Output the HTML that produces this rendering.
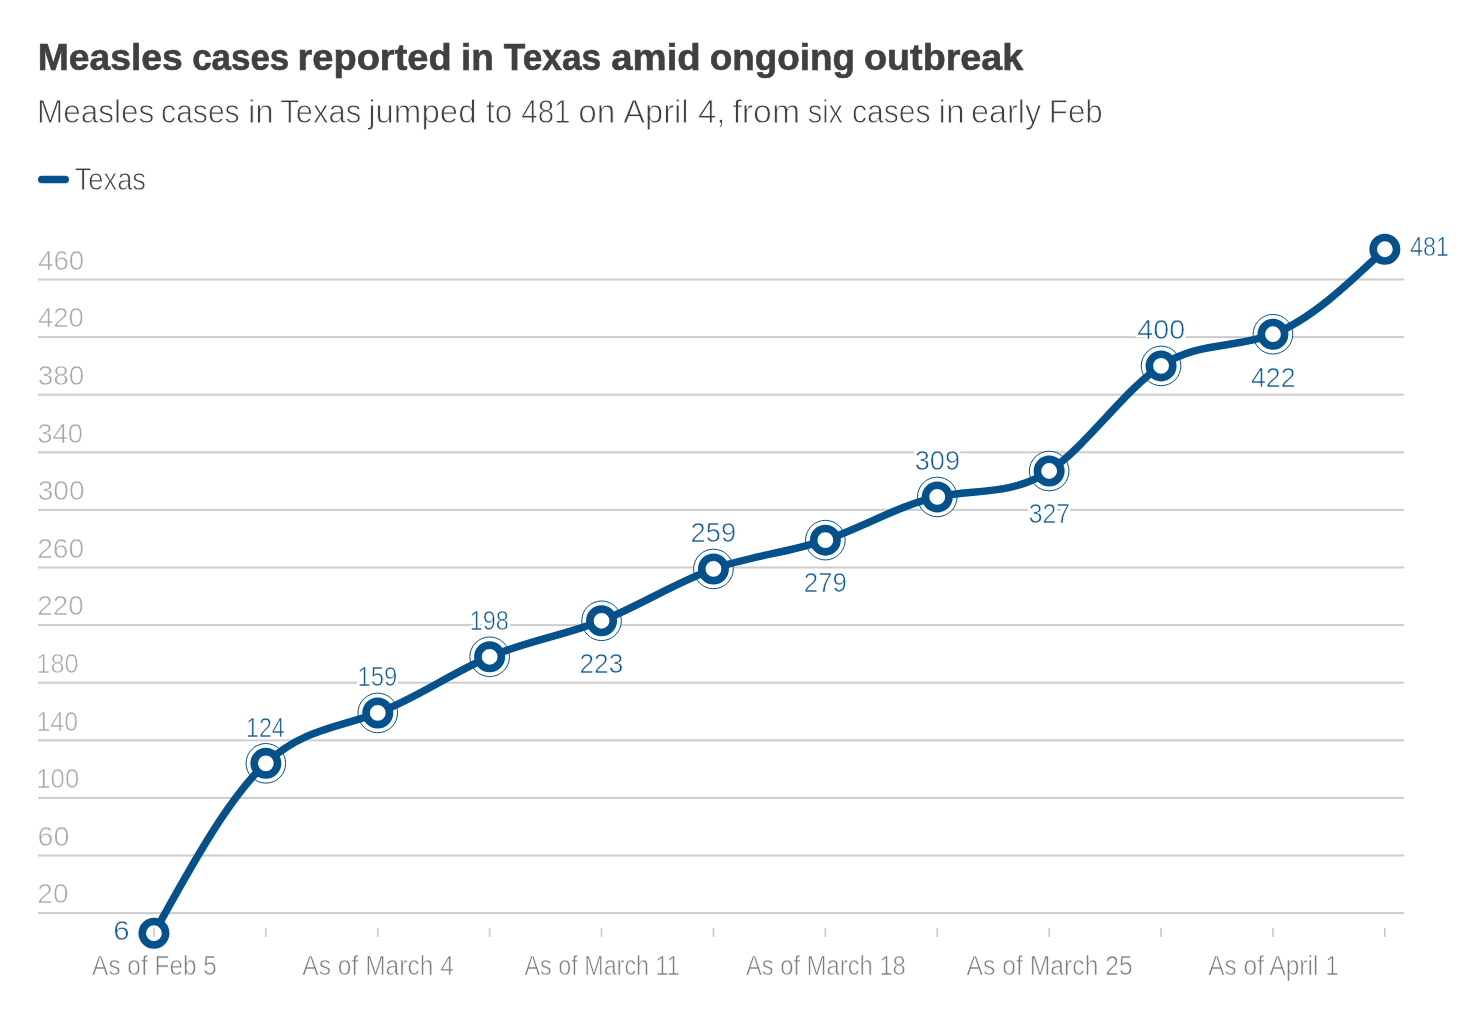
<!DOCTYPE html>
<html lang="en"><head><meta charset="utf-8"><title>Measles cases reported in Texas amid ongoing outbreak</title>
<style>
html,body{margin:0;padding:0;background:#fff;}
body{width:1484px;height:1022px;overflow:hidden;}
svg{display:block;}
</style></head><body>
<svg width="1484" height="1022" viewBox="0 0 1484 1022" font-family="'Liberation Sans', sans-serif">
<rect width="1484" height="1022" fill="#fff"/>
<defs><filter id="halo" x="-15%" y="-25%" width="130%" height="150%"><feMorphology in="SourceAlpha" operator="dilate" radius="1.5" result="d"/><feFlood flood-color="#fff"/><feComposite in2="d" operator="in" result="h"/><feMerge><feMergeNode in="h"/><feMergeNode in="SourceGraphic"/></feMerge></filter></defs>
<g fill="#cccccc">
<rect x="38" y="912.10" width="1366" height="2"/>
<rect x="38" y="854.50" width="1366" height="2"/>
<rect x="38" y="796.90" width="1366" height="2"/>
<rect x="38" y="739.30" width="1366" height="2"/>
<rect x="38" y="681.70" width="1366" height="2"/>
<rect x="38" y="624.10" width="1366" height="2"/>
<rect x="38" y="566.50" width="1366" height="2"/>
<rect x="38" y="508.90" width="1366" height="2"/>
<rect x="38" y="451.30" width="1366" height="2"/>
<rect x="38" y="393.70" width="1366" height="2"/>
<rect x="38" y="336.10" width="1366" height="2"/>
<rect x="38" y="278.50" width="1366" height="2"/>
<rect x="153.10" y="928" width="1.7" height="9"/>
<rect x="265.00" y="928" width="1.7" height="9"/>
<rect x="376.90" y="928" width="1.7" height="9"/>
<rect x="488.80" y="928" width="1.7" height="9"/>
<rect x="600.70" y="928" width="1.7" height="9"/>
<rect x="712.60" y="928" width="1.7" height="9"/>
<rect x="824.50" y="928" width="1.7" height="9"/>
<rect x="936.40" y="928" width="1.7" height="9"/>
<rect x="1048.30" y="928" width="1.7" height="9"/>
<rect x="1160.20" y="928" width="1.7" height="9"/>
<rect x="1272.10" y="928" width="1.7" height="9"/>
<rect x="1384.00" y="928" width="1.7" height="9"/>
</g>
<text x="37.38" y="903.40" font-size="27.64" fill="#a8a8a8" stroke="#fff" stroke-width="0.6" textLength="31.12" lengthAdjust="spacingAndGlyphs">20</text>
<text x="37.54" y="845.80" font-size="27.64" fill="#a8a8a8" stroke="#fff" stroke-width="0.6" textLength="31.99" lengthAdjust="spacingAndGlyphs">60</text>
<text x="36.34" y="788.20" font-size="27.64" fill="#a8a8a8" stroke="#fff" stroke-width="0.6" textLength="42.88" lengthAdjust="spacingAndGlyphs">100</text>
<text x="36.39" y="730.60" font-size="27.64" fill="#a8a8a8" stroke="#fff" stroke-width="0.6" textLength="41.70" lengthAdjust="spacingAndGlyphs">140</text>
<text x="36.37" y="673.00" font-size="27.64" fill="#a8a8a8" stroke="#fff" stroke-width="0.6" textLength="42.13" lengthAdjust="spacingAndGlyphs">180</text>
<text x="37.19" y="615.40" font-size="27.64" fill="#a8a8a8" stroke="#fff" stroke-width="0.6" textLength="46.41" lengthAdjust="spacingAndGlyphs">220</text>
<text x="37.17" y="557.80" font-size="27.64" fill="#a8a8a8" stroke="#fff" stroke-width="0.6" textLength="47.05" lengthAdjust="spacingAndGlyphs">260</text>
<text x="37.68" y="500.20" font-size="27.64" fill="#a8a8a8" stroke="#fff" stroke-width="0.6" textLength="47.04" lengthAdjust="spacingAndGlyphs">300</text>
<text x="37.20" y="442.60" font-size="27.64" fill="#a8a8a8" stroke="#fff" stroke-width="0.6" textLength="45.88" lengthAdjust="spacingAndGlyphs">340</text>
<text x="37.69" y="385.00" font-size="27.64" fill="#a8a8a8" stroke="#fff" stroke-width="0.6" textLength="46.72" lengthAdjust="spacingAndGlyphs">380</text>
<text x="37.95" y="327.40" font-size="27.64" fill="#a8a8a8" stroke="#fff" stroke-width="0.6" textLength="45.83" lengthAdjust="spacingAndGlyphs">420</text>
<text x="37.95" y="269.80" font-size="27.64" fill="#a8a8a8" stroke="#fff" stroke-width="0.6" textLength="46.35" lengthAdjust="spacingAndGlyphs">460</text>
<text x="92.12" y="974.53" font-size="27.13" fill="#7c7c7c" stroke="#fff" stroke-width="0.65" textLength="124.75" lengthAdjust="spacingAndGlyphs">As of Feb 5</text>
<text x="302.28" y="974.53" font-size="27.13" fill="#7c7c7c" stroke="#fff" stroke-width="0.65" textLength="151.71" lengthAdjust="spacingAndGlyphs">As of March 4</text>
<text x="524.57" y="974.53" font-size="27.13" fill="#7c7c7c" stroke="#fff" stroke-width="0.65" textLength="155.16" lengthAdjust="spacingAndGlyphs">As of March 11</text>
<text x="745.88" y="974.53" font-size="27.13" fill="#7c7c7c" stroke="#fff" stroke-width="0.65" textLength="159.98" lengthAdjust="spacingAndGlyphs">As of March 18</text>
<text x="966.62" y="974.53" font-size="27.13" fill="#7c7c7c" stroke="#fff" stroke-width="0.65" textLength="166.12" lengthAdjust="spacingAndGlyphs">As of March 25</text>
<text x="1208.28" y="974.53" font-size="27.13" fill="#7c7c7c" stroke="#fff" stroke-width="0.65" textLength="130.48" lengthAdjust="spacingAndGlyphs">As of April 1</text>
<g fill="#fff" stroke="#04518c" stroke-width="1.0">
<circle cx="265.85" cy="763.34" r="19.8"/>
<circle cx="377.75" cy="712.94" r="19.8"/>
<circle cx="489.65" cy="656.78" r="19.8"/>
<circle cx="601.55" cy="620.78" r="19.8"/>
<circle cx="713.45" cy="568.94" r="19.8"/>
<circle cx="825.35" cy="540.14" r="19.8"/>
<circle cx="937.25" cy="496.94" r="19.8"/>
<circle cx="1049.15" cy="471.02" r="19.8"/>
<circle cx="1161.05" cy="365.90" r="19.8"/>
<circle cx="1272.95" cy="334.22" r="19.8"/>
</g>
<path d="M153.95,933.26C191.25,865.64,228.55,798.01,265.85,763.34C303.15,728.67,340.45,726.94,377.75,712.94C415.05,698.94,452.35,672.65,489.65,656.78C526.95,640.91,564.25,635.44,601.55,620.78C638.85,606.12,676.15,582.26,713.45,568.94C750.75,555.62,788.05,552.82,825.35,540.14C862.65,527.46,899.95,504.89,937.25,496.94C974.55,488.99,1011.85,495.67,1049.15,471.02C1086.45,446.37,1123.75,390.39,1161.05,365.90C1198.35,341.41,1235.65,348.41,1272.95,334.22C1310.25,320.03,1347.55,284.64,1384.85,249.26" fill="none" stroke="#04518c" stroke-width="7.5" stroke-linecap="round" stroke-linejoin="round"/>
<g fill="#fff" stroke="#04518c" stroke-width="7.6">
<circle cx="153.95" cy="933.26" r="11.7"/>
<circle cx="265.85" cy="763.34" r="11.7"/>
<circle cx="377.75" cy="712.94" r="11.7"/>
<circle cx="489.65" cy="656.78" r="11.7"/>
<circle cx="601.55" cy="620.78" r="11.7"/>
<circle cx="713.45" cy="568.94" r="11.7"/>
<circle cx="825.35" cy="540.14" r="11.7"/>
<circle cx="937.25" cy="496.94" r="11.7"/>
<circle cx="1049.15" cy="471.02" r="11.7"/>
<circle cx="1161.05" cy="365.90" r="11.7"/>
<circle cx="1272.95" cy="334.22" r="11.7"/>
<circle cx="1384.85" cy="249.26" r="11.7"/>
</g>
<rect x="153.10" y="928" width="1.7" height="9" fill="#cccccc"/>
<g filter="url(#halo)">
<text x="113.19" y="939.56" font-size="27.49" fill="#0d5a94" stroke="#fff" stroke-width="0.6" textLength="16.40" lengthAdjust="spacingAndGlyphs">6</text>
<text x="246.01" y="736.84" font-size="27.49" fill="#0d5a94" stroke="#fff" stroke-width="0.6" textLength="38.71" lengthAdjust="spacingAndGlyphs">124</text>
<text x="357.51" y="686.44" font-size="27.49" fill="#0d5a94" stroke="#fff" stroke-width="0.6" textLength="39.92" lengthAdjust="spacingAndGlyphs">159</text>
<text x="469.64" y="630.28" font-size="27.49" fill="#0d5a94" stroke="#fff" stroke-width="0.6" textLength="39.26" lengthAdjust="spacingAndGlyphs">198</text>
<text x="579.52" y="673.08" font-size="27.49" fill="#0d5a94" stroke="#fff" stroke-width="0.6" textLength="43.69" lengthAdjust="spacingAndGlyphs">223</text>
<text x="690.61" y="542.44" font-size="27.49" fill="#0d5a94" stroke="#fff" stroke-width="0.6" textLength="45.54" lengthAdjust="spacingAndGlyphs">259</text>
<text x="803.63" y="592.44" font-size="27.49" fill="#0d5a94" stroke="#fff" stroke-width="0.6" textLength="43.30" lengthAdjust="spacingAndGlyphs">279</text>
<text x="914.76" y="470.44" font-size="27.49" fill="#0d5a94" stroke="#fff" stroke-width="0.6" textLength="45.33" lengthAdjust="spacingAndGlyphs">309</text>
<text x="1028.65" y="523.32" font-size="27.49" fill="#0d5a94" stroke="#fff" stroke-width="0.6" textLength="41.33" lengthAdjust="spacingAndGlyphs">327</text>
<text x="1137.37" y="339.40" font-size="27.49" fill="#0d5a94" stroke="#fff" stroke-width="0.6" textLength="47.74" lengthAdjust="spacingAndGlyphs">400</text>
<text x="1250.97" y="386.52" font-size="27.49" fill="#0d5a94" stroke="#fff" stroke-width="0.6" textLength="44.55" lengthAdjust="spacingAndGlyphs">422</text>
<text x="1410.07" y="256.16" font-size="27.49" fill="#0d5a94" stroke="#fff" stroke-width="0.6" textLength="38.78" lengthAdjust="spacingAndGlyphs">481</text>
</g>
<line x1="41.7" y1="179.5" x2="65.3" y2="179.5" stroke="#04518c" stroke-width="7.4" stroke-linecap="round"/>
<text y="70.2" font-size="36.07" font-weight="bold" fill="#404040" stroke="#404040" stroke-width="0.6"><tspan x="37.72" textLength="144.97" lengthAdjust="spacingAndGlyphs">Measles</tspan> <tspan x="192.15" textLength="97.14" lengthAdjust="spacingAndGlyphs">cases</tspan> <tspan x="297.57" textLength="154.03" lengthAdjust="spacingAndGlyphs">reported</tspan> <tspan x="461.03" textLength="32.94" lengthAdjust="spacingAndGlyphs">in</tspan> <tspan x="503.71" textLength="97.43" lengthAdjust="spacingAndGlyphs">Texas</tspan> <tspan x="611.24" textLength="89.54" lengthAdjust="spacingAndGlyphs">amid</tspan> <tspan x="709.67" textLength="145.24" lengthAdjust="spacingAndGlyphs">ongoing</tspan> <tspan x="864.13" textLength="159.03" lengthAdjust="spacingAndGlyphs">outbreak</tspan></text>
<text y="123.0" font-size="32.58" fill="#404040" stroke="#fff" stroke-width="0.8"><tspan x="36.94" textLength="117.43" lengthAdjust="spacingAndGlyphs">Measles</tspan> <tspan x="161.12" textLength="78.51" lengthAdjust="spacingAndGlyphs">cases</tspan> <tspan x="247.90" textLength="25.96" lengthAdjust="spacingAndGlyphs">in</tspan> <tspan x="280.19" textLength="80.97" lengthAdjust="spacingAndGlyphs">Texas</tspan> <tspan x="368.16" textLength="108.38" lengthAdjust="spacingAndGlyphs">jumped</tspan> <tspan x="486.01" textLength="26.36" lengthAdjust="spacingAndGlyphs">to</tspan> <tspan x="521.22" textLength="49.34" lengthAdjust="spacingAndGlyphs">481</tspan> <tspan x="578.22" textLength="37.13" lengthAdjust="spacingAndGlyphs">on</tspan> <tspan x="623.20" textLength="65.39" lengthAdjust="spacingAndGlyphs">April</tspan> <tspan x="698.04" textLength="27.40" lengthAdjust="spacingAndGlyphs">4,</tspan> <tspan x="732.48" textLength="67.57" lengthAdjust="spacingAndGlyphs">from</tspan> <tspan x="807.71" textLength="35.30" lengthAdjust="spacingAndGlyphs">six</tspan> <tspan x="851.91" textLength="78.61" lengthAdjust="spacingAndGlyphs">cases</tspan> <tspan x="938.48" textLength="26.20" lengthAdjust="spacingAndGlyphs">in</tspan> <tspan x="970.91" textLength="70.22" lengthAdjust="spacingAndGlyphs">early</tspan> <tspan x="1048.76" textLength="53.98" lengthAdjust="spacingAndGlyphs">Feb</tspan></text>
<text x="74.63" y="189.60" font-size="30.69" fill="#404040" stroke="#fff" stroke-width="0.8" textLength="71.41" lengthAdjust="spacingAndGlyphs">Texas</text>
</svg>
</body></html>
